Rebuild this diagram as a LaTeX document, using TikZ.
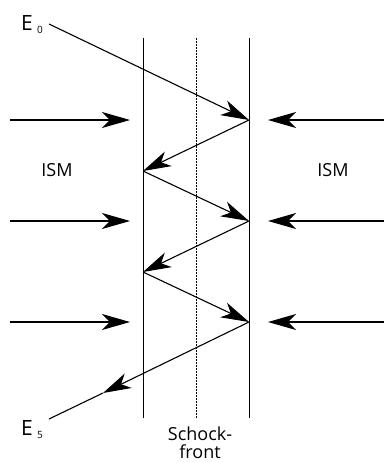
\documentclass[tikz,border=0pt]{standalone}
\usepackage{fontspec}
\setmainfont{Open Sans}
\usetikzlibrary{arrows.meta}
\begin{document}
\begin{tikzpicture}[x=1pt,y=-1pt,
  wall/.style={line width=1.0pt},
  ray/.style={line width=1.1pt},
  hd/.style={-{Stealth[length=28pt,width=16pt,inset=8pt]}},
  lbl/.style={font=\fontsize{18}{20}\selectfont, inner sep=0pt},
  elbl/.style={font=\fontsize{21}{23}\selectfont, inner sep=0pt, anchor=base west},
  sub/.style={font=\fontsize{10}{11}\selectfont, inner sep=0pt, anchor=base west}]
\useasboundingbox (0,0) rectangle (384,463);

% shock region boundaries and the shock front itself
\coordinate (lt) at (143,38);  \coordinate (lb) at (143,418);
\coordinate (rt) at (249,38);  \coordinate (rb) at (249,418);
\coordinate (dt) at (196,38);  \coordinate (db) at (196,418);
\draw[wall] (lt) -- (lb);
\draw[wall] (rt) -- (rb);
\draw[line width=0.9pt, dash pattern=on 2pt off 1pt] (dt) -- (db);

% reflection points of the particle
\coordinate (s)  at (49,24);
\coordinate (r1) at (249,120);
\coordinate (l1) at (143,171);
\coordinate (r2) at (249,221);
\coordinate (l2) at (143,272);
\coordinate (r3) at (249,322);
\coordinate (m5) at (103,393);
\coordinate (e)  at (49,419);

\draw[ray,hd] (s) -- (r1);
\draw[ray,hd] (r1) -- (l1);
\draw[ray,hd] (l1) -- (r2);
\draw[ray,hd] (r2) -- (l2);
\draw[ray,hd] (l2) -- (r3);
\draw[ray,hd] (r3) -- (m5);
\draw[ray] (m5) -- (e);

% energy labels
\node[elbl] (E0) at (21,30) {E};
\node[sub] (E0s) at (37,33) {0};
\node[elbl] (E5) at (21,435) {E};
\node[sub] (E5s) at (37,438) {5};

% inflowing interstellar medium
\foreach \y [count=\i] in {120,221,322}{
  \coordinate (la\i) at (10,\y);  \coordinate (lh\i) at (130,\y);
  \coordinate (ra\i) at (384,\y); \coordinate (rh\i) at (268,\y);
  \draw[ray,hd] (la\i) -- (lh\i);
  \draw[ray,hd] (ra\i) -- (rh\i);
}
\node[lbl] (ismL) at (57,170) {ISM};
\node[lbl] (ismR) at (333,170) {ISM};

\node[lbl, align=center, font=\fontsize{18}{18}\selectfont] (sf) at (200,443) {Schock-\\front};
\end{tikzpicture}
\end{document}
